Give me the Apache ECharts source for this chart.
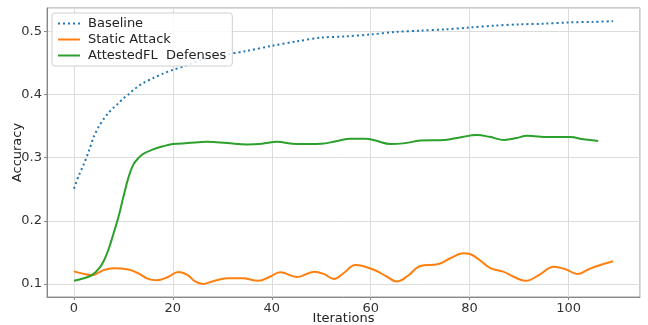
<!DOCTYPE html>
<html><head><meta charset="utf-8">
<script src="https://cdn.jsdelivr.net/npm/echarts@6/dist/echarts.min.js"></script>
<style>html,body{margin:0;padding:0;background:#fff}#c{width:648px;height:325px}</style>
</head><body><div id="c"></div>
<script>
const seriesNames = ['Baseline', 'Static Attack', 'AttestedFL  Defenses'];
const baselineX = [0,1,2,3,4,5,6,7,8,9,10,11,12,13,14,16,18,20,22,24,26,28,30,35,40,45,50,55,60,65,70,75,80,85,90,95,100,105,109];
const baselineY = [0.251,0.272,0.290,0.310,0.333,0.349,0.361,0.371,0.379,0.386,0.394,0.400,0.407,0.413,0.418,0.426,0.433,0.439,0.444,0.450,0.455,0.458,0.462,0.469,0.477,0.484,0.490,0.492,0.495,0.499,0.501,0.503,0.506,0.509,0.511,0.512,0.514,0.515,0.516];
const attackX = [0,2,3.6,6,8,11,13,15,16.7,19,21.1,23,24.5,26,28,31,34,37.3,39.5,41.7,45.1,48.6,50.5,52.6,54.5,56.9,60.5,63,65.3,67.5,70,73.7,76.1,78.7,80.2,82,84.2,86.8,89,91.3,94,97,99.5,101.8,104,105.8,109];
const attackY = [0.120,0.116,0.114,0.122,0.125,0.123,0.117,0.108,0.106,0.111,0.119,0.114,0.104,0.100,0.104,0.109,0.109,0.105,0.111,0.1185,0.111,0.1195,0.116,0.108,0.117,0.130,0.123,0.113,0.104,0.113,0.1285,0.1316,0.1407,0.1486,0.147,0.138,0.125,0.1195,0.111,0.105,0.114,0.1274,0.123,0.1158,0.123,0.1285,0.136];
const defenseX = [0,2,3.6,5,6,7,8,9,10,11,12,13,14,16,18,20,23,27,31,35,38,41,45,50,53,56,59,61,64,67,70,75,78,81.5,84,87,89.5,91.6,96,100.4,103,106];
const defenseY = [0.105,0.109,0.114,0.124,0.136,0.155,0.180,0.206,0.238,0.268,0.289,0.299,0.306,0.313,0.318,0.3215,0.323,0.325,0.323,0.321,0.322,0.325,0.3215,0.322,0.326,0.330,0.330,0.327,0.3215,0.323,0.327,0.328,0.332,0.3358,0.333,0.328,0.331,0.3347,0.3326,0.3326,0.329,0.3263];
const xTicks = [0,20,40,60,80,100];
const yTicks = [0.1,0.2,0.3,0.4,0.5];

const zip = (xs, ys) => xs.map((x, i) => [x, ys[i]]);
const font = 'DejaVu Sans';
const chart = echarts.init(document.getElementById('c'), null, {renderer: 'canvas'});
chart.setOption({
  animation: false,
  textStyle: {fontFamily: font},
  grid: {left: 47, right: 8, top: 8, bottom: 28, containLabel: false, outerBoundsMode: 'none',
    show: true, borderColor: '#999', borderWidth: 1},
  legend: {
    orient: 'vertical', left: 52, top: 13, itemWidth: 22, itemHeight: 12, itemGap: 3,
    padding: [4, 6, 4, 5], borderColor: '#d0d0d0', borderWidth: 1, borderRadius: 3,
    backgroundColor: 'rgba(255,255,255,0.85)',
    itemStyle: {opacity: 0},
    textStyle: {fontFamily: font, fontSize: 13, color: '#222', padding: [0, 0, 0, 3]},
    data: seriesNames
  },
  xAxis: {
    type: 'value', min: -5.45, max: 114.45,
    name: 'Iterations', nameLocation: 'middle', nameGap: 15, nameMoveOverlap: false,
    nameTextStyle: {fontFamily: font, fontSize: 13, color: '#222', verticalAlign: 'top'},
    axisLine: {show: true, onZero: false, lineStyle: {color: '#888'}},
    axisTick: {show: true, length: 3, lineStyle: {color: '#888'}},
    axisLabel: {fontFamily: font, fontSize: 13, color: '#333', margin: 5, showMinLabel: false, showMaxLabel: false,
      formatter: v => xTicks.includes(Math.round(v * 1000) / 1000) ? String(Math.round(v)) : ''},
    splitLine: {show: true, lineStyle: {color: '#dcdcdc', width: 1}}
  },
  yAxis: {
    type: 'value', min: 0.0794, max: 0.5369,
    name: 'Accuracy', nameLocation: 'middle', nameGap: 23, nameMoveOverlap: false,
    nameTextStyle: {fontFamily: font, fontSize: 13, color: '#222'},
    axisLine: {show: true, onZero: false, lineStyle: {color: '#888'}},
    axisTick: {show: true, length: 3, lineStyle: {color: '#888'}},
    axisLabel: {fontFamily: font, fontSize: 13, color: '#333', margin: 5, showMinLabel: false, showMaxLabel: false,
      formatter: v => { const r = Math.round(v * 1000) / 1000; return yTicks.includes(r) ? r.toFixed(1) : ''; }},
    splitLine: {show: true, lineStyle: {color: '#dcdcdc', width: 1}}
  },
  series: [
    {name: seriesNames[0], type: 'line', data: zip(baselineX, baselineY), showSymbol: false, symbol: 'none', smooth: 0.3,
      lineStyle: {color: '#1f77b4', width: 2, type: [2, 3]}, itemStyle: {color: '#1f77b4'}},
    {name: seriesNames[1], type: 'line', data: zip(attackX, attackY), showSymbol: false, symbol: 'none', smooth: 0.4,
      lineStyle: {color: '#ff7f0e', width: 2}, itemStyle: {color: '#ff7f0e'}},
    {name: seriesNames[2], type: 'line', data: zip(defenseX, defenseY), showSymbol: false, symbol: 'none', smooth: 0.4,
      lineStyle: {color: '#2ca02c', width: 2}, itemStyle: {color: '#2ca02c'}}
  ]
});
</script></body></html>
